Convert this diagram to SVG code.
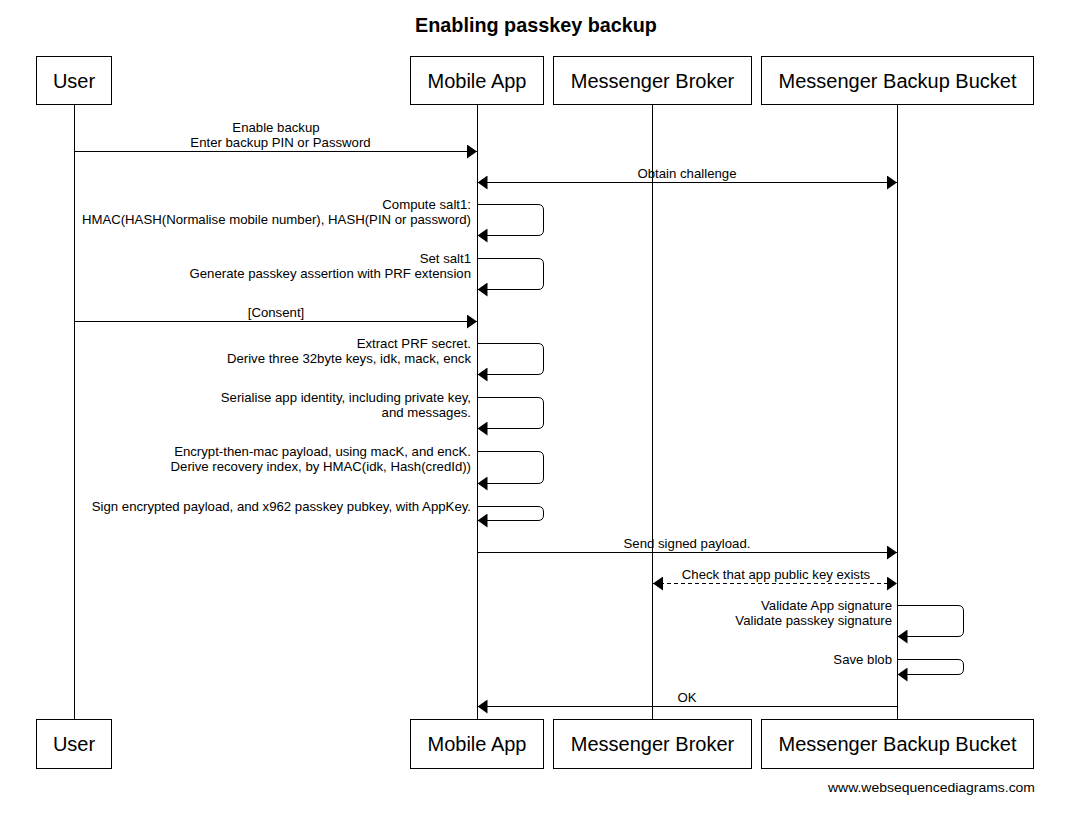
<svg xmlns="http://www.w3.org/2000/svg" width="1072" height="813" viewBox="0 0 1072 813">
<defs>
<style>
.box{fill:#fff;stroke:#000;stroke-width:1}
.bt{font-family:"Liberation Sans",Arial,sans-serif;font-size:20px;text-anchor:middle;fill:#000}
.life{stroke:#000;stroke-width:1;fill:none}
.msg{stroke:#000;stroke-width:1;fill:none}
.dash{stroke-dasharray:4,3}
.lbl{font-family:"Liberation Sans",Arial,sans-serif;font-size:13.2px;fill:#000}
.c{text-anchor:middle}
.r{text-anchor:end}
.title{font-family:"Liberation Sans",Arial,sans-serif;font-size:19.8px;font-weight:bold;text-anchor:middle}
</style>
<marker id="ah" viewBox="0 0 10 14" refX="10" refY="7" markerWidth="10" markerHeight="14" markerUnits="userSpaceOnUse" orient="auto-start-reverse">
<path d="M0,0 L10,7 L0,14 Z" fill="#000"/>
</marker>
</defs>
<rect width="1072" height="813" fill="#fff"/>
<text class="title" x="536" y="32">Enabling passkey backup</text>

<g id="lifelines">
<line class="life" x1="74.5" y1="104.5" x2="74.5" y2="719.5"/>
<line class="life" x1="477.5" y1="104.5" x2="477.5" y2="719.5"/>
<line class="life" x1="652.5" y1="104.5" x2="652.5" y2="719.5"/>
<line class="life" x1="897.5" y1="104.5" x2="897.5" y2="719.5"/>
</g>

<g id="user">
<rect class="box" x="36.5" y="56.5" width="75" height="48"/>
<text class="bt" x="74" y="88">User</text>
<rect class="box" x="36.5" y="719.5" width="75" height="49"/>
<text class="bt" x="74" y="751">User</text>
</g>
<g id="mobile-app">
<rect class="box" x="410.5" y="56.5" width="133" height="48"/>
<text class="bt" x="477" y="88">Mobile App</text>
<rect class="box" x="410.5" y="719.5" width="133" height="49"/>
<text class="bt" x="477" y="751">Mobile App</text>
</g>
<g id="messenger-broker">
<rect class="box" x="553.5" y="56.5" width="198" height="48"/>
<text class="bt" x="652.5" y="88">Messenger Broker</text>
<rect class="box" x="553.5" y="719.5" width="198" height="49"/>
<text class="bt" x="652.5" y="751">Messenger Broker</text>
</g>
<g id="messenger-backup-bucket">
<rect class="box" x="761.5" y="56.5" width="272" height="48"/>
<text class="bt" x="897.5" y="88">Messenger Backup Bucket</text>
<rect class="box" x="761.5" y="719.5" width="272" height="49"/>
<text class="bt" x="897.5" y="751">Messenger Backup Bucket</text>
</g>

<g id="connectors">
<line class="msg" x1="75" y1="151.5" x2="477" y2="151.5" marker-end="url(#ah)"/>
<text class="lbl c" x="276" y="132">Enable backup</text>
<text class="lbl c" x="280.5" y="147">Enter backup PIN or Password</text>

<line class="msg" x1="477.5" y1="182.5" x2="897" y2="182.5" marker-start="url(#ah)" marker-end="url(#ah)"/>
<text class="lbl c" x="687" y="178">Obtain challenge</text>

<path class="msg" d="M478,204.5 H538 Q543.5,204.5 543.5,210 V230 Q543.5,235.5 538,235.5 H477.5" marker-end="url(#ah)"/>
<text class="lbl r" x="471" y="208.5">Compute salt1:</text>
<text class="lbl r" x="471" y="223.5">HMAC(HASH(Normalise mobile number), HASH(PIN or password)</text>

<path class="msg" d="M478,258.5 H538 Q543.5,258.5 543.5,264 V284 Q543.5,289.5 538,289.5 H477.5" marker-end="url(#ah)"/>
<text class="lbl r" x="471" y="262.5">Set salt1</text>
<text class="lbl r" x="471" y="277.5">Generate passkey assertion with PRF extension</text>

<line class="msg" x1="75" y1="321.5" x2="477" y2="321.5" marker-end="url(#ah)"/>
<text class="lbl c" x="276" y="317">[Consent]</text>

<path class="msg" d="M478,343.5 H538 Q543.5,343.5 543.5,349 V369 Q543.5,374.5 538,374.5 H477.5" marker-end="url(#ah)"/>
<text class="lbl r" x="471" y="348">Extract PRF secret.</text>
<text class="lbl r" x="471" y="363">Derive three 32byte keys, idk, mack, enck</text>

<path class="msg" d="M478,397.5 H538 Q543.5,397.5 543.5,403 V423 Q543.5,428.5 538,428.5 H477.5" marker-end="url(#ah)"/>
<text class="lbl r" x="471" y="402">Serialise app identity, including private key,</text>
<text class="lbl r" x="471" y="417">and messages.</text>

<path class="msg" d="M478,451.5 H538 Q543.5,451.5 543.5,457 V478 Q543.5,483.5 538,483.5 H477.5" marker-end="url(#ah)"/>
<text class="lbl r" x="471" y="456">Encrypt-then-mac payload, using macK, and encK.</text>
<text class="lbl r" x="471" y="471">Derive recovery index, by HMAC(idk, Hash(credId))</text>

<path class="msg" d="M478,506.5 H538 Q543.5,506.5 543.5,512 V515 Q543.5,520.5 538,520.5 H477.5" marker-end="url(#ah)"/>
<text class="lbl r" x="471" y="511">Sign encrypted payload, and x962 passkey pubkey, with AppKey.</text>

<line class="msg" x1="478" y1="552.5" x2="897" y2="552.5" marker-end="url(#ah)"/>
<text class="lbl c" x="687" y="548">Send signed payload.</text>

<line class="msg dash" x1="653" y1="583.5" x2="897" y2="583.5" marker-start="url(#ah)" marker-end="url(#ah)"/>
<text class="lbl c" x="776" y="579">Check that app public key exists</text>

<path class="msg" d="M898,605.5 H958 Q963.5,605.5 963.5,611 V631 Q963.5,636.5 958,636.5 H897.5" marker-end="url(#ah)"/>
<text class="lbl r" x="892" y="610">Validate App signature</text>
<text class="lbl r" x="892" y="625">Validate passkey signature</text>

<path class="msg" d="M898,659.5 H958 Q963.5,659.5 963.5,665 V669 Q963.5,674.5 958,674.5 H897.5" marker-end="url(#ah)"/>
<text class="lbl r" x="892" y="664">Save blob</text>

<line class="msg" x1="897" y1="706.5" x2="477.5" y2="706.5" marker-end="url(#ah)"/>
<text class="lbl c" x="687" y="702">OK</text>
</g>

<text class="lbl r" x="1035" y="792" textLength="207" lengthAdjust="spacingAndGlyphs">www.websequencediagrams.com</text>
</svg>
